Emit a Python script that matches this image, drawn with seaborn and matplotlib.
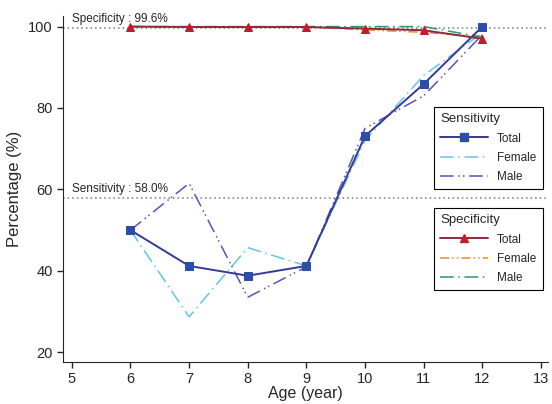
import numpy as np
import pandas as pd
import seaborn as sns
import matplotlib
matplotlib.use("Agg")
import matplotlib.pyplot as plt
from matplotlib.lines import Line2D

ages = [6, 7, 8, 9, 10, 11, 12]
sens_total = [50.0, 41.2, 38.8, 41.2, 73.1, 85.9, 100.0]
sens_female = [50.0, 28.7, 45.7, 41.2, 72.0, 88.0, 98.5]
sens_male = [50.0, 61.5, 33.5, 41.0, 75.0, 83.0, 98.0]
spec_total = [100.0, 99.9, 99.9, 99.9, 99.5, 99.1, 97.0]
spec_female = [100.0, 99.9, 99.9, 99.9, 99.2, 98.6, 97.5]
spec_male = [100.0, 100.0, 100.0, 100.0, 100.0, 100.0, 97.4]
sens_overall = 58.0
spec_overall = 99.6
x_ticks = [5, 6, 7, 8, 9, 10, 11, 12, 13]
y_ticks = [20, 40, 60, 80, 100]

sns.set_style("ticks")
plt.rcParams['font.family'] = ['Liberation Sans', 'DejaVu Sans']

fig = plt.figure(figsize=(5.52, 4.04), dpi=100)
L, B, W, H = 63, 42, 485, 346  # pixels
ax = fig.add_axes([L / 552, B / 404, W / 552, H / 404])

c_st = "#353a96"; c_sf = "#5ec8ea"; c_sm = "#5b50c2"
c_pt = "#8e2a3c"; c_pf = "#f08a24"; c_pm = "#2a9a6c"

ax.axhline(spec_overall, color="#777777", ls=(0, (1, 2)), lw=1.1, zorder=1)
ax.axhline(sens_overall, color="#777777", ls=(0, (1, 2)), lw=1.1, zorder=1)

series = [
    (sens_female, c_sf, (0, (9, 3, 1, 3)), None, 1.1),
    (sens_male, c_sm, (0, (9, 3, 1, 2, 1, 3)), None, 1.1),
    (spec_female, c_pf, (0, (6, 2, 1, 2, 1, 2)), None, 1.1),
    (spec_male, c_pm, (0, (9, 3, 1, 3)), None, 1.1),
    (sens_total, c_st, "-", "s", 1.4),
    (spec_total, c_pt, "-", "^", 1.4),
]
for vals, col, ls, mk, lw in series:
    df = pd.DataFrame({"age": ages, "val": vals})
    if mk:
        mfc = "#2c4ea8" if mk == "s" else "#c41a2c"
        sns.lineplot(data=df, x="age", y="val", ax=ax, color=col, lw=lw,
                     marker=mk, markersize=5.5, markerfacecolor=mfc,
                     markeredgecolor=mfc, linestyle=ls, zorder=4)
    else:
        sns.lineplot(data=df, x="age", y="val", ax=ax, color=col, lw=lw,
                     linestyle=ls, zorder=3)

ax.text(5.0, spec_overall + 0.7, "Specificity : 99.6%", fontsize=8.5, va="bottom", ha="left")
ax.text(5.0, sens_overall + 0.7, "Sensitivity : 58.0%", fontsize=8.5, va="bottom", ha="left")

ax.set_xlim(4.85, 13.12)
ax.set_ylim(17.6, 102.6)
ax.set_xticks(x_ticks)
ax.set_yticks(y_ticks)
ax.tick_params(labelsize=10.5, length=4, width=1)
ax.set_xlabel("Age (year)", fontsize=11.5, labelpad=0)
ax.set_ylabel("Percentage (%)", fontsize=12)
sns.despine(ax=ax)

h1 = [Line2D([], [], color=c_st, lw=1.4, marker="s", markersize=5.5, markerfacecolor="#2c4ea8", markeredgecolor="#2c4ea8"),
      Line2D([], [], color=c_sf, lw=1.1, ls=(0, (9, 3, 1, 3))),
      Line2D([], [], color=c_sm, lw=1.1, ls=(0, (9, 3, 1, 2, 1, 3)))]
h2 = [Line2D([], [], color=c_pt, lw=1.4, marker="^", markersize=5.5, markerfacecolor="#c41a2c", markeredgecolor="#c41a2c"),
      Line2D([], [], color=c_pf, lw=1.1, ls=(0, (6, 2, 1, 2, 1, 2))),
      Line2D([], [], color=c_pm, lw=1.1, ls=(0, (9, 3, 1, 3)))]
labels = ["Total", "Female", "Male"]
kw = dict(fontsize=8.5, title_fontsize=9.5, frameon=True, fancybox=False,
          edgecolor="black", framealpha=1, handlelength=4.0, borderpad=0.55,
          labelspacing=0.6, alignment="left", borderaxespad=0)
leg1 = ax.legend(h1, labels, title="Sensitivity", loc="upper left",
                 bbox_to_anchor=((434 - L) / W, (404 - B - 107) / H), **kw)
leg1.get_frame().set_linewidth(0.8)
ax.add_artist(leg1)
leg2 = ax.legend(h2, labels, title="Specificity", loc="upper left",
                 bbox_to_anchor=((434 - L) / W, (404 - B - 208) / H), **kw)
leg2.get_frame().set_linewidth(0.8)

fig.savefig("out.png", dpi=100)
